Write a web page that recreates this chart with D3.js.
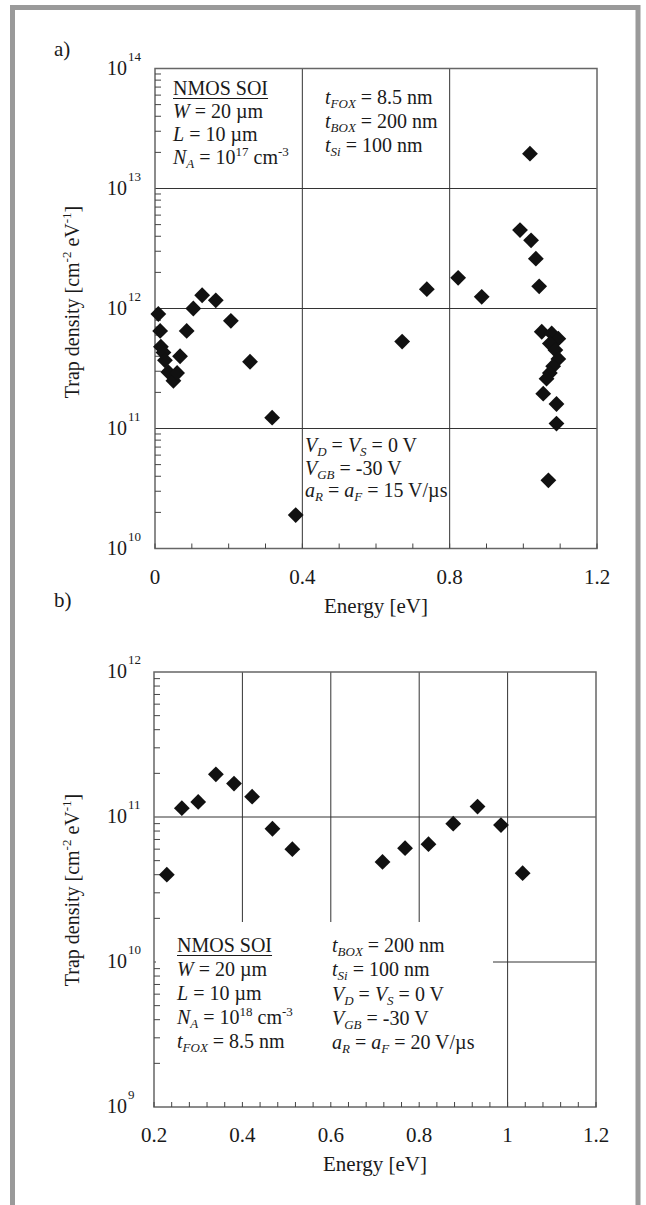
<html lang="en">
<head>
<meta charset="utf-8">
<title>Trap density vs energy</title>
<script src="https://cdn.jsdelivr.net/npm/d3@7"></script>
<style>
  body { margin: 0; background: #fff; }
  svg text { font-family: "Liberation Serif", "DejaVu Serif", serif; fill: #1a1a1a; }
</style>
</head>
<body>
<svg width="646" height="1205" font-family="Liberation Serif, DejaVu Serif, serif"></svg>
<script>
// panel a) data: energy [eV] and trap density [cm^-2 eV^-1]
var energyA = [0.009, 0.014, 0.016, 0.023, 0.027, 0.036, 0.050, 0.060, 0.068, 0.086, 0.104, 0.128, 0.165, 0.206, 0.258, 0.318, 0.382,
               0.671, 0.738, 0.823, 0.887, 0.991, 1.018, 1.021, 1.034, 1.043,
               1.050, 1.077, 1.095, 1.072, 1.087, 1.095, 1.081, 1.072, 1.063, 1.054, 1.090, 1.090, 1.068];
var densityA = [9.0e11, 6.5e11, 4.8e11, 4.3e11, 3.7e11, 2.95e11, 2.5e11, 2.9e11, 4.0e11, 6.5e11, 1.0e12, 1.29e12, 1.17e12, 7.9e11, 3.6e11, 1.23e11, 1.9e10,
                5.3e11, 1.45e12, 1.8e12, 1.25e12, 4.5e12, 1.95e13, 3.7e12, 2.6e12, 1.53e12,
                6.4e11, 6.2e11, 5.6e11, 5.1e11, 4.5e11, 3.8e11, 3.3e11, 2.9e11, 2.6e11, 1.95e11, 1.6e11, 1.1e11, 3.7e10];

// panel b) data
var energyB = [0.229, 0.263, 0.300, 0.340, 0.381, 0.422, 0.468, 0.513, 0.717, 0.768, 0.821, 0.877, 0.932, 0.985, 1.034];
var densityB = [4.0e10, 1.15e11, 1.27e11, 1.97e11, 1.70e11, 1.38e11, 8.3e10, 6.0e10, 4.9e10, 6.1e10, 6.5e10, 9.0e10, 1.18e11, 8.8e10, 4.1e10];

// axis ticks
var xTicksA = [0, 0.4, 0.8, 1.2];
var xTickLabelsA = ["0", "0.4", "0.8", "1.2"];
var yExpA = [10, 11, 12, 13, 14];
var xTicksB = [0.2, 0.4, 0.6, 0.8, 1.0, 1.2];
var xTickLabelsB = ["0.2", "0.4", "0.6", "0.8", "1", "1.2"];
var yExpB = [9, 10, 11, 12];

// annotation lines  (i: italic, b: subscript, p: superscript)
var notesA1 = ["NMOS SOI", "i:W| = 20 \u00b5m", "i:L| = 10 \u00b5m", "i:N|b:A| = 10|p:17| cm|p:-3"];
var notesA2 = ["i:t|b:FOX| = 8.5 nm", "i:t|b:BOX| = 200 nm", "i:t|b:Si| = 100 nm"];
var notesA3 = ["i:V|b:D| = |i:V|b:S| = 0 V", "i:V|b:GB| = -30 V", "i:a|b:R| = |i:a|b:F| = 15 V/\u00b5s"];
var notesB1 = ["NMOS SOI", "i:W| = 20 \u00b5m", "i:L| = 10 \u00b5m", "i:N|b:A| = 10|p:18| cm|p:-3", "i:t|b:FOX| = 8.5 nm"];
var notesB2 = ["i:t|b:BOX| = 200 nm", "i:t|b:Si| = 100 nm", "i:V|b:D| = |i:V|b:S| = 0 V", "i:V|b:GB| = -30 V", "i:a|b:R| = |i:a|b:F| = 20 V/\u00b5s"];

var svg = d3.select("svg");
var FONT = "'Liberation Serif', 'DejaVu Serif', serif";

// grey outer frame
svg.append("path")
    .attr("d", "M12.5,1205V7.5H638V1205")
    .attr("fill", "none")
    .attr("stroke", "#9a9a9a")
    .attr("stroke-width", 5);

function txt(g, x, y, size) {
    return g.append("text").attr("x", x).attr("y", y)
        .style("font-family", FONT).style("font-size", size + "px");
}

function rich(g, x, y, str, size) {
    var t = txt(g, x, y, size);
    var shift = 0;
    str.split("|").forEach(function(seg) {
        var kind = seg.length > 1 && seg[1] == ":" ? seg[0] : "";
        var s = kind ? seg.slice(2) : seg;
        var target = kind == "b" ? 4 : kind == "p" ? -8 : 0;
        var ts = t.append("tspan").attr("dy", target - shift).text(s);
        shift = target;
        if (kind == "b" || kind == "p") ts.style("font-size", Math.round(size * 0.65) + "px");
        if (kind == "i" || kind == "b") ts.style("font-style", "italic");
    });
    return t;
}

function notes(g, x, y0, step, lines) {
    lines.forEach(function(s, i) {
        var t = rich(g, x, y0 + i * step, s, 20);
        if (s == "NMOS SOI") {
            var w = t.node().getComputedTextLength();
            g.append("line").attr("x1", x).attr("x2", x + w)
                .attr("y1", y0 + 3.5).attr("y2", y0 + 3.5)
                .attr("stroke", "#1a1a1a").attr("stroke-width", 1.2);
        }
    });
}

function panel(cfg) {
    var g = svg.append("g");
    var x = cfg.x, y = cfg.y;
    var x0 = x.range()[0], x1 = x.range()[1], yb = y.range()[0], yt = y.range()[1];

    // grid
    g.selectAll(".hg").data(cfg.hGrid).enter().append("line")
        .attr("x1", x0).attr("x2", x1)
        .attr("y1", function(d) { return y(d); }).attr("y2", function(d) { return y(d); })
        .attr("stroke", "#333").attr("stroke-width", 1);
    g.selectAll(".vg").data(cfg.vGrid).enter().append("line")
        .attr("x1", function(d) { return x(d); }).attr("x2", function(d) { return x(d); })
        .attr("y1", yt).attr("y2", yb)
        .attr("stroke", "#333").attr("stroke-width", 1);

    if (cfg.mask) {
        g.append("rect").attr("x", cfg.mask[0]).attr("y", cfg.mask[1])
            .attr("width", cfg.mask[2]).attr("height", cfg.mask[3]).attr("fill", "#fff");
    }

    // frame
    g.append("rect").attr("x", x0).attr("y", yt).attr("width", x1 - x0).attr("height", yb - yt)
        .attr("fill", "none").attr("stroke", "#666").attr("stroke-width", 1.5);

    // minor ticks on log axis (inside)
    var minors = [];
    var lo = Math.log10(y.domain()[0]), hi = Math.log10(y.domain()[1]);
    for (var e = lo; e < hi; e++) for (var m = 2; m <= 9; m++) minors.push(m * Math.pow(10, e));
    g.selectAll(".ym").data(minors).enter().append("line")
        .attr("x1", x0).attr("x2", x0 + 6)
        .attr("y1", function(d) { return y(d); }).attr("y2", function(d) { return y(d); })
        .attr("stroke", "#444").attr("stroke-width", 1);

    // minor ticks on x axis (inside)
    g.selectAll(".xm").data(d3.range(x.domain()[0], x.domain()[1] + 1e-9, cfg.xMinor)).enter().append("line")
        .attr("x1", function(d) { return x(d); }).attr("x2", function(d) { return x(d); })
        .attr("y1", yb).attr("y2", yb - 5)
        .attr("stroke", "#444").attr("stroke-width", 1);

    // points
    var diamond = d3.symbol().type(d3.symbolSquare).size(125);
    g.selectAll(".pt").data(cfg.ex.map(function(d, i) { return [d, cfg.dens[i]]; })).enter().append("path")
        .attr("d", diamond)
        .attr("transform", function(d) { return "translate(" + x(d[0]) + "," + y(d[1]) + ") rotate(45)"; })
        .attr("fill", "#111");

    // y tick labels 10^n
    cfg.yExp.forEach(function(n) {
        var py = y(Math.pow(10, n));
        txt(g, 127, py + 6, 20).attr("text-anchor", "end").text("10");
        txt(g, 128, py - 8, 13).text(n);
    });

    // x tick labels
    cfg.xTicks.forEach(function(v, i) {
        txt(g, x(v), yb + 35, 21).attr("text-anchor", "middle").text(cfg.xLabels[i]);
    });

    // axis titles
    txt(g, (x0 + x1) / 2, yb + 64, 21).attr("text-anchor", "middle").text("Energy [eV]");
    var yt2 = txt(g, 0, 0, 20).attr("transform", "translate(79," + cfg.titleY + ") rotate(-90)")
        .attr("text-anchor", "middle");
    yt2.append("tspan").text("Trap density [cm");
    yt2.append("tspan").attr("dy", -8).style("font-size", "13px").text("-2");
    yt2.append("tspan").attr("dy", 8).text(" eV");
    yt2.append("tspan").attr("dy", -8).style("font-size", "13px").text("-1");
    yt2.append("tspan").attr("dy", 8).text("]");

    txt(g, 54, cfg.tagY, 21).text(cfg.tag);
    return g;
}

var gA = panel({
    x: d3.scaleLinear().domain([0, 1.2]).range([155, 597]),
    y: d3.scaleLog().domain([1e10, 1e14]).range([548.5, 68.5]),
    hGrid: [1e11, 1e12, 1e13], vGrid: [0.4, 0.8],
    xMinor: 0.1, ex: energyA, dens: densityA,
    yExp: yExpA, xTicks: xTicksA, xLabels: xTickLabelsA,
    titleY: 302, tag: "a)", tagY: 56
});
notes(gA, 173, 95, 23, notesA1);
notes(gA, 325, 104, 24, notesA2);
notes(gA, 305, 452, 22.5, notesA3);

var gB = panel({
    x: d3.scaleLinear().domain([0.2, 1.2]).range([154, 596]),
    y: d3.scaleLog().domain([1e9, 1e12]).range([1107, 672]),
    hGrid: [1e10, 1e11], vGrid: [0.4, 0.6, 0.8, 1.0],
    mask: [156, 922, 337, 184],
    xMinor: 0.04, ex: energyB, dens: densityB,
    yExp: yExpB, xTicks: xTicksB, xLabels: xTickLabelsB,
    titleY: 890, tag: "b)", tagY: 607
});
notes(gB, 177, 952, 24, notesB1);
notes(gB, 332, 952, 24.3, notesB2);
</script>
</body>
</html>
